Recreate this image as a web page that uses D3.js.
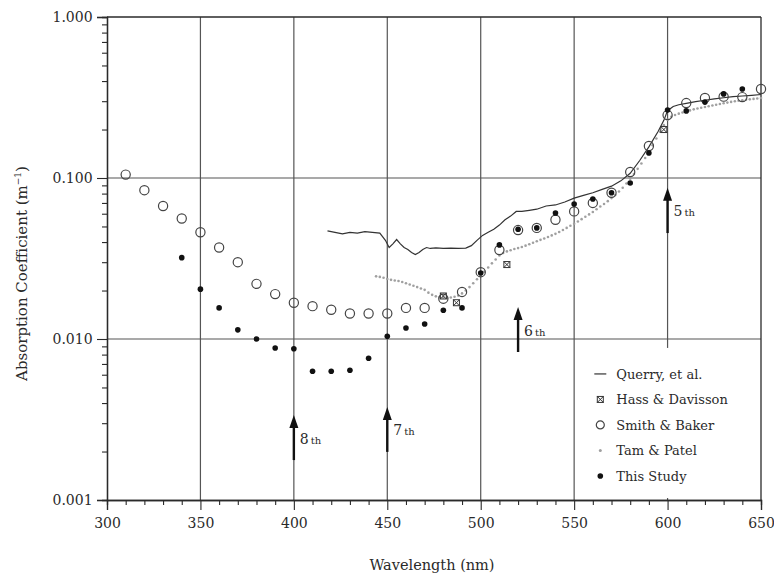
<!DOCTYPE html>
<html>
<head>
<meta charset="utf-8">
<script src="https://cdn.jsdelivr.net/npm/d3@7"></script>
<style>
  body { margin: 0; background: #fff; }
  svg text { font-family: "DejaVu Serif", "Liberation Serif", serif; fill: #2a2a2a; }
</style>
</head>
<body>
<div id="chart"></div>
<script>
// ---- DATA ----
const xTicks = [300, 350, 400, 450, 500, 550, 600, 650];
const yTicks = [1, 0.1, 0.01, 0.001];

// Smith & Baker (open circles)
const sbWl = [310, 320, 330, 340, 350, 360, 370, 380, 390, 400, 410, 420, 430, 440, 450, 460, 470, 480, 490, 500,
  510, 520, 530, 540, 550, 560, 570, 580, 590, 600, 610, 620, 630, 640, 650];
const sbVal = [0.105, 0.084, 0.067, 0.056, 0.046, 0.037, 0.030, 0.022, 0.019, 0.0168, 0.016, 0.0152, 0.0144, 0.0144, 0.0144,
  0.0156, 0.0156, 0.0178, 0.0196, 0.026, 0.0357, 0.0475, 0.049, 0.055, 0.062, 0.070, 0.081, 0.109, 0.158, 0.246,
  0.292, 0.314, 0.320, 0.318, 0.357];

// This Study (filled dots)
const tsWl = [340, 350, 360, 370, 380, 390, 400, 410, 420, 430, 440, 450, 460, 470, 480, 490, 500, 510, 520, 530,
  540, 550, 560, 570, 580, 590, 600, 610, 620, 630, 640];
const tsVal = [0.032, 0.0204, 0.0156, 0.0114, 0.0100, 0.0088, 0.0087, 0.0063, 0.0063, 0.0064, 0.0076, 0.0104, 0.0117,
  0.0124, 0.0151, 0.0156, 0.0257, 0.0384, 0.048, 0.049, 0.0606, 0.069, 0.074, 0.081, 0.093, 0.143, 0.264, 0.261,
  0.296, 0.333, 0.357];

// Hass & Davisson
const hdWl = [480, 487, 514, 598];
const hdVal = [0.0185, 0.0168, 0.029, 0.20];

// Tam & Patel (small grey dots)
const tpWl = [444, 446, 448, 450, 452, 454, 456, 458, 460, 462, 464, 466, 468, 470, 472, 474, 476, 478, 480, 482,
  484, 486, 488, 490, 492, 494, 496, 498, 500, 502, 504, 506, 508, 510, 512, 514, 516, 518, 520, 522, 524, 526, 528,
  530, 532, 534, 536, 538, 540, 542, 544, 546, 548, 550, 552, 554, 556, 558, 560, 562, 564, 566, 568, 570, 572, 574,
  576, 578, 580, 582, 584, 586, 588, 590, 592, 594, 596, 598, 600, 602, 604, 606, 608, 610, 612, 614, 616, 618, 620,
  622, 624, 626, 628, 630, 632, 634, 636, 638, 640, 642, 644, 646, 648, 650];
const tpVal = [0.0245, 0.0243, 0.0240, 0.0236, 0.0233, 0.0231, 0.0229, 0.0226, 0.0222, 0.0218, 0.0214, 0.0210, 0.0206,
  0.0202, 0.0194, 0.0188, 0.0184, 0.0182, 0.0181, 0.0180, 0.0181, 0.0183, 0.0186, 0.0192, 0.0200, 0.0210, 0.0222,
  0.0235, 0.0248, 0.0262, 0.0278, 0.0295, 0.0312, 0.0330, 0.0342, 0.0350, 0.0356, 0.0362, 0.0367, 0.0373, 0.0380,
  0.0388, 0.0396, 0.0405, 0.0413, 0.0421, 0.0430, 0.0440, 0.0450, 0.0462, 0.0475, 0.0490, 0.0505, 0.0520, 0.0537,
  0.0555, 0.0574, 0.0594, 0.0615, 0.0640, 0.0665, 0.0690, 0.0718, 0.0750, 0.0785, 0.0825, 0.0870, 0.0925, 0.0990,
  0.106, 0.114, 0.123, 0.133, 0.145, 0.160, 0.176, 0.194, 0.213, 0.230, 0.240, 0.246, 0.251, 0.255, 0.259, 0.263,
  0.267, 0.270, 0.273, 0.276, 0.279, 0.282, 0.285, 0.288, 0.291, 0.294, 0.297, 0.300, 0.302, 0.304, 0.306, 0.308,
  0.310, 0.312, 0.314];

// Querry, et al. (solid line)
const qWl = [418, 422, 426, 430, 434, 438, 442, 446, 449, 451, 453, 455, 457, 459, 461, 463, 465, 467, 469, 471, 473,
  476, 480, 484, 488, 492, 495, 498, 501, 504, 507, 510, 513, 516, 519, 522, 526, 530, 535, 540, 545, 550, 555, 560,
  565, 570, 575, 580, 585, 590, 595, 598, 600, 603, 606, 610, 615, 620, 625, 630, 635, 640, 645, 650];
const qVal = [0.047, 0.046, 0.045, 0.046, 0.0455, 0.0465, 0.046, 0.0455, 0.041, 0.037, 0.039, 0.0415, 0.039, 0.037,
  0.036, 0.0345, 0.0335, 0.0345, 0.036, 0.037, 0.0365, 0.0368, 0.0365, 0.0367, 0.0366, 0.0367, 0.038, 0.041, 0.044,
  0.046, 0.048, 0.051, 0.055, 0.058, 0.062, 0.062, 0.063, 0.064, 0.067, 0.068, 0.071, 0.075, 0.078, 0.081, 0.085,
  0.089, 0.096, 0.107, 0.128, 0.156, 0.195, 0.228, 0.262, 0.278, 0.285, 0.291, 0.298, 0.304, 0.310, 0.315, 0.320,
  0.323, 0.326, 0.330];

// order arrows
const arrowWl = [600, 520, 450, 400];
const arrowTip = [0.087, 0.0158, 0.00378, 0.00337];
const arrowTail = [0.0455, 0.0083, 0.00199, 0.00177];
const arrowNum = ["5", "6", "7", "8"];

const legendNames = ["Querry, et al.", "Hass & Davisson", "Smith & Baker", "Tam & Patel", "This Study"];

// ---- LAYOUT ----
const W = 774, H = 575;
const margin = { top: 17, right: 13, bottom: 75, left: 107 };
const width = W - margin.left - margin.right;
const height = H - margin.top - margin.bottom;
const ink = "#2a2a2a", grid = "#555";

const svg = d3.select("#chart").append("svg")
  .attr("width", W)
  .attr("height", H)
  .append("g")
  .attr("transform", `translate(${margin.left},${margin.top})`);

// SCALES
const x = d3.scaleLinear().domain([300, 650]).range([0, width]);
const y = d3.scaleLog().domain([0.001, 1]).range([height, 0]);

const minorY = [];
[0.001, 0.01, 0.1].forEach(d => { for (let k = 2; k <= 9; k++) minorY.push(d * k); });
const minorX = d3.range(300, 651, 10).filter(d => d % 50 !== 0);

// GRID
svg.append("g")
  .selectAll("line.gx")
  .data(xTicks.slice(1, -1)).enter().append("line")
  .attr("x1", d => x(d)).attr("x2", d => x(d))
  .attr("y1", 0).attr("y2", height)
  .attr("stroke", grid).attr("stroke-width", 1.2);

svg.append("g")
  .selectAll("line.gy")
  .data(yTicks.slice(1, -1)).enter().append("line")
  .attr("x1", 0).attr("x2", width)
  .attr("y1", d => y(d)).attr("y2", d => y(d))
  .attr("stroke", grid).attr("stroke-width", 1.2);

// legend background hides grid
svg.append("rect")
  .attr("x", x(552)).attr("y", y(0.0088))
  .attr("width", width - x(552) - 2).attr("height", height - y(0.0088) - 2)
  .attr("fill", "#fff");

// AXES
const xAxis = svg.append("g")
  .attr("transform", `translate(0,${height})`)
  .call(d3.axisBottom(x).tickValues(xTicks).tickSize(10).tickFormat(d3.format("d")));
svg.append("g")
  .attr("transform", `translate(0,${height})`)
  .call(d3.axisBottom(x).tickValues(minorX).tickSize(5).tickFormat(""));

const yAxis = svg.append("g")
  .call(d3.axisLeft(y).tickValues(yTicks).tickSize(10).tickFormat(d3.format(".3f")));
svg.append("g")
  .call(d3.axisLeft(y).tickValues(minorY).tickSize(5).tickFormat(""));

svg.selectAll(".domain").attr("stroke", ink).attr("stroke-width", 1.3);
svg.selectAll(".tick line").attr("stroke", ink).attr("stroke-width", 1.1);
xAxis.selectAll("text").attr("font-size", 14).attr("dy", "1.1em");
yAxis.selectAll("text").attr("font-size", 14).attr("dx", "-0.1em");
svg.selectAll(".tick text").attr("fill", ink).style("font-family", "DejaVu Serif, serif");

// frame top and right
svg.append("line").attr("x1", 0).attr("x2", width).attr("y1", 0).attr("y2", 0)
  .attr("stroke", ink).attr("stroke-width", 1.3);
svg.append("line").attr("x1", width).attr("x2", width).attr("y1", 0).attr("y2", height)
  .attr("stroke", ink).attr("stroke-width", 1.3);

// axis titles
svg.append("text")
  .attr("x", 325).attr("y", height + 70)
  .attr("text-anchor", "middle").attr("font-size", 14.5)
  .text("Wavelength (nm)");

const yl = svg.append("text")
  .attr("transform", `translate(${-80},${height / 2 + 15}) rotate(-90)`)
  .attr("text-anchor", "middle").attr("font-size", 15);
yl.append("tspan").text("Absorption Coefficient (m");
yl.append("tspan").attr("font-size", 9).attr("dy", -6).text("−1");
yl.append("tspan").attr("dy", 6).text(")");

// ---- SERIES ----
// Querry line
svg.append("path")
  .datum(qWl.map((d, i) => [d, qVal[i]]))
  .attr("fill", "none").attr("stroke", "#333").attr("stroke-width", 1.2)
  .attr("d", d3.line().x(d => x(d[0])).y(d => y(d[1])));

// Tam & Patel
svg.append("g").selectAll("circle")
  .data(tpWl.map((d, i) => [d, tpVal[i]])).enter().append("circle")
  .attr("cx", d => x(d[0])).attr("cy", d => y(d[1]))
  .attr("r", 1.3).attr("fill", "#a0a0a0");

// Smith & Baker
svg.append("g").selectAll("circle")
  .data(sbWl.map((d, i) => [d, sbVal[i]])).enter().append("circle")
  .attr("cx", d => x(d[0])).attr("cy", d => y(d[1]))
  .attr("r", 4.6).attr("fill", "none").attr("stroke", "#444").attr("stroke-width", 1.2);

// This Study
svg.append("g").selectAll("circle")
  .data(tsWl.map((d, i) => [d, tsVal[i]])).enter().append("circle")
  .attr("cx", d => x(d[0])).attr("cy", d => y(d[1]))
  .attr("r", 2.8).attr("fill", "#111");

// Hass & Davisson
function hassMark(g, cx, cy) {
  g.append("rect").attr("x", cx - 3).attr("y", cy - 3).attr("width", 6).attr("height", 6)
    .attr("fill", "none").attr("stroke", "#333").attr("stroke-width", 1);
  g.append("path").attr("d", `M${cx - 3},${cy - 3}L${cx + 3},${cy + 3}M${cx + 3},${cy - 3}L${cx - 3},${cy + 3}`)
    .attr("stroke", "#333").attr("stroke-width", 1);
}
const hd = svg.append("g");
hdWl.forEach((d, i) => hassMark(hd, x(d), y(hdVal[i])));

// ARROWS
const arrows = svg.append("g");
arrowWl.forEach((d, i) => {
  const ax = x(d), tip = y(arrowTip[i]), tail = y(arrowTail[i]);
  arrows.append("line").attr("x1", ax).attr("x2", ax).attr("y1", tip + 8).attr("y2", tail)
    .attr("stroke", "#111").attr("stroke-width", 2.4);
  arrows.append("path")
    .attr("d", `M${ax},${tip}L${ax - 4.5},${tip + 13}L${ax + 4.5},${tip + 13}Z`)
    .attr("fill", "#111");
  const t = arrows.append("text")
    .attr("x", ax + 6).attr("y", (tip + tail) / 2 + 6).attr("font-size", 14);
  t.append("tspan").text(arrowNum[i]);
  t.append("tspan").attr("font-size", 10).attr("dx", 2).text("th");
});

// LEGEND
const lg = svg.append("g").attr("transform", `translate(${x(564)},${y(0.0088) + 26})`);
legendNames.forEach((name, i) => {
  const row = lg.append("g").attr("transform", `translate(0,${i * 25.5})`);
  if (i === 0) row.append("line").attr("x1", -6).attr("x2", 6).attr("stroke", "#333").attr("stroke-width", 1.2);
  if (i === 1) hassMark(row, 0, 0);
  if (i === 2) row.append("circle").attr("r", 4).attr("fill", "none").attr("stroke", "#444").attr("stroke-width", 1.2);
  if (i === 3) row.append("circle").attr("r", 1.5).attr("fill", "#a0a0a0");
  if (i === 4) row.append("circle").attr("r", 2.8).attr("fill", "#111");
  row.append("text").attr("x", 16).attr("y", 5).attr("font-size", 13).text(name);
});
</script>
</body>
</html>
